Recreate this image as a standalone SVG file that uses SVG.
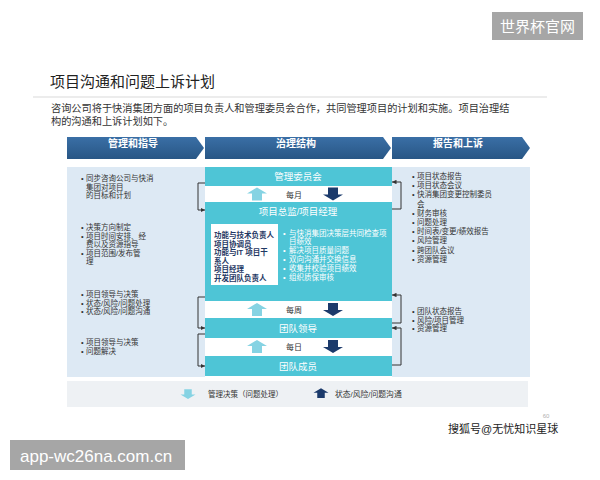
<svg xmlns="http://www.w3.org/2000/svg" width="600" height="480" viewBox="0 0 600 480">
<defs>
<style>
text{font-family:"Liberation Sans","Noto Sans CJK SC",sans-serif;}
.wm{fill:#a6a6a6;}
.wmt{fill:#fff;font-size:15px;}
.hdr{fill:url(#hg);}
.hdt{fill:#fff;font-size:10px;font-weight:bold;text-anchor:middle;}
.pnl{fill:#dde9f4;}
.side{fill:#333;font-size:7.5px;}
.teal{fill:#4ec5d6;}
.tl{fill:#fff;font-size:9.5px;text-anchor:middle;}
.freq{fill:#333;font-size:8px;text-anchor:middle;}
.inner{fill:#1f3864;font-size:7.5px;font-weight:bold;}
.bul{fill:#fff;font-size:7.5px;}
.up{fill:#86d3e3;}
.dn{fill:#1b3a6b;}
.conn{fill:none;stroke:#333;stroke-width:1;}
</style>
<linearGradient id="hg" x1="0" y1="0" x2="0" y2="1">
<stop offset="0" stop-color="#3a6fa6"/>
<stop offset="1" stop-color="#285685"/>
</linearGradient>
<marker id="ah" viewBox="0 0 6 6" refX="6" refY="3" markerWidth="4.5" markerHeight="4.5" orient="auto">
<path d="M0,0 L6,3 L0,6 Z" fill="#333"/>
</marker>
<path id="upA" d="M0,-6.5 L10,-0.5 L5,-0.5 L5,6.5 L-5,6.5 L-5,-0.5 L-10,-0.5 Z"/>
<path id="dnA" d="M0,6.5 L10,0.5 L5,0.5 L5,-6.5 L-5,-6.5 L-5,0.5 L-10,0.5 Z"/>
</defs>
<rect width="600" height="480" fill="#fff"/>

<g id="watermark-top">
<rect class="wm" x="492" y="12" width="91" height="28"/>
<text class="wmt" x="537.5" y="31.5" text-anchor="middle">世界杯官网</text>
</g>

<g id="title">
<text x="50" y="87" font-size="15" fill="#222">项目沟通和问题上诉计划</text>
<rect x="33" y="96" width="514" height="2" fill="#ececec"/>
<text font-size="10.2" fill="#333"><tspan x="51" y="112">咨询公司将于快消集团方面的项目负责人和管理委员会合作，共同管理项目的计划和实施。项目治理结</tspan><tspan x="51" y="125">构的沟通和上诉计划如下。</tspan></text>
</g>

<g id="header-guidance">
<polygon class="hdr" points="67,137 196,137 204,148 196,159 67,159"/>
<text class="hdt" x="133" y="147">管理和指导</text>
</g>
<g id="header-governance">
<polygon class="hdr" points="205,137 383,137 391,148 383,159 205,159"/>
<text class="hdt" x="296" y="147">治理结构</text>
</g>
<g id="header-reporting">
<polygon class="hdr" points="392,137 522,137 530,148 522,159 392,159"/>
<text class="hdt" x="458" y="147">报告和上诉</text>
</g>

<g id="panel-left">
<rect class="pnl" x="67" y="167" width="138" height="210"/>
<text class="side"><tspan x="81" y="181">•</tspan><tspan x="86" y="181">同步咨询公司与快消</tspan><tspan x="86" y="189.5">集团对项目</tspan><tspan x="86" y="198">的目标和计划</tspan></text>
<text class="side"><tspan x="81" y="230">•</tspan><tspan x="86" y="230">决策方向制定</tspan><tspan x="81" y="238.5">•</tspan><tspan x="86" y="238.5">项目时间安排、经</tspan><tspan x="86" y="247">费以及资源指导</tspan><tspan x="81" y="255.5">•</tspan><tspan x="86" y="255.5">项目范围/发布管</tspan><tspan x="86" y="264">理</tspan></text>
<text class="side"><tspan x="81" y="297">•</tspan><tspan x="86" y="297">项目领导与决策</tspan><tspan x="81" y="305.5">•</tspan><tspan x="86" y="305.5">状态/风险/问题处理</tspan><tspan x="81" y="314">•</tspan><tspan x="86" y="314">状态/风险/问题沟通</tspan></text>
<text class="side"><tspan x="81" y="345">•</tspan><tspan x="86" y="345">项目领导与决策</tspan><tspan x="81" y="353.5">•</tspan><tspan x="86" y="353.5">问题解决</tspan></text>
</g>

<g id="panel-right">
<rect class="pnl" x="392" y="167" width="138" height="210"/>
<text class="side"><tspan x="412" y="179">•</tspan><tspan x="417" y="179">项目状态报告</tspan><tspan x="412" y="188.2">•</tspan><tspan x="417" y="188.2">项目状态会议</tspan><tspan x="412" y="197.4">•</tspan><tspan x="417" y="197.4">快消集团变更控制委员</tspan><tspan x="417" y="206.6">会</tspan><tspan x="412" y="215.8">•</tspan><tspan x="417" y="215.8">财务审核</tspan><tspan x="412" y="225">•</tspan><tspan x="417" y="225">问题处理</tspan><tspan x="412" y="234.2">•</tspan><tspan x="417" y="234.2">时间表/变更/绩效报告</tspan><tspan x="412" y="243.4">•</tspan><tspan x="417" y="243.4">风险管理</tspan><tspan x="412" y="252.6">•</tspan><tspan x="417" y="252.6">跨团队会议</tspan><tspan x="412" y="261.8">•</tspan><tspan x="417" y="261.8">资源管理</tspan></text>
<text class="side"><tspan x="412" y="314">•</tspan><tspan x="417" y="314">团队状态报告</tspan><tspan x="412" y="322.5">•</tspan><tspan x="417" y="322.5">风险/项目管理</tspan><tspan x="412" y="331">•</tspan><tspan x="417" y="331">资源管理</tspan></text>
</g>

<g id="node-committee">
<rect class="teal" x="205" y="167" width="187" height="19"/>
<text class="tl" x="298" y="180">管理委员会</text>
</g>
<g id="band-monthly">
<use href="#upA" class="up" x="257" y="194"/>
<text class="freq" x="294" y="197.5">每月</text>
<use href="#dnA" class="dn" x="333" y="194"/>
</g>
<g id="node-director">
<rect class="teal" x="205" y="202" width="187" height="99"/>
<text class="tl" x="298" y="214.5">项目总监/项目经理</text>
<rect x="211" y="224" width="67" height="61" fill="#fff"/>
<text class="inner"><tspan x="214" y="238">功能与技术负责人</tspan><tspan x="214" y="246.5">项目协调员</tspan><tspan x="214" y="255">功能与IT 项目干</tspan><tspan x="214" y="263.5">系人</tspan><tspan x="214" y="272">项目经理</tspan><tspan x="214" y="280.5">开发团队负责人</tspan></text>
<text class="bul"><tspan x="283" y="235.5">•</tspan><tspan x="289" y="235.5">与快消集团决策层共同检查项</tspan><tspan x="289" y="244.3">目绩效</tspan><tspan x="283" y="253.1">•</tspan><tspan x="289" y="253.1">解决项目质量问题</tspan><tspan x="283" y="261.9">•</tspan><tspan x="289" y="261.9">双向沟通并交换信息</tspan><tspan x="283" y="270.7">•</tspan><tspan x="289" y="270.7">收集并校验项目绩效</tspan><tspan x="283" y="279.5">•</tspan><tspan x="289" y="279.5">组织质保审核</tspan></text>
</g>
<g id="band-weekly">
<use href="#upA" class="up" x="257" y="309.5"/>
<text class="freq" x="294" y="313">每周</text>
<use href="#dnA" class="dn" x="333" y="309.5"/>
</g>
<g id="node-teamlead">
<rect class="teal" x="205" y="318" width="187" height="20"/>
<text class="tl" x="298" y="331.5">团队领导</text>
</g>
<g id="band-daily">
<use href="#upA" class="up" x="257" y="346.5"/>
<text class="freq" x="294" y="350">每日</text>
<use href="#dnA" class="dn" x="333" y="346.5"/>
</g>
<g id="node-members">
<rect class="teal" x="205" y="356" width="187" height="20"/>
<text class="tl" x="298" y="369.5">团队成员</text>
</g>

<g id="connectors">
<path class="conn" d="M205,183 H198 V210 H205" marker-end="url(#ah)"/>
<path class="conn" d="M205,297 H198 V328 H205" marker-end="url(#ah)"/>
<path class="conn" d="M205,334 H198 V366 H205" marker-end="url(#ah)"/>
<path class="conn" d="M392,209 H401 V182 H392" marker-end="url(#ah)"/>
<path class="conn" d="M392,323 H401 V295 H392" marker-end="url(#ah)"/>
<path class="conn" d="M392,365 H401 V328 H392" marker-end="url(#ah)"/>
</g>

<g id="legend">
<rect x="67" y="381" width="461" height="26" fill="#eef1f4"/>
<use href="#dnA" class="up" x="188" y="394" transform="translate(188,394) scale(0.75) translate(-188,-394)"/>
<text x="208" y="397" font-size="7.5" fill="#333">管理决策（问题处理）</text>
<use href="#upA" class="dn" x="321" y="393" transform="translate(321,393) scale(0.75) translate(-321,-393)"/>
<text x="335" y="397" font-size="7.8" fill="#333">状态/风险/问题沟通</text>
</g>

<g id="footer">
<text x="546" y="418" font-size="6" fill="#b0b0b0" text-anchor="middle">60</text>
<text x="448" y="433" font-size="11" fill="#222">搜狐号@无忧知识星球</text>
<rect class="wm" x="10" y="440" width="175" height="30"/>
<text x="20" y="461.5" font-size="17" fill="#fff">app-wc26na.com.cn</text>
</g>
</svg>
